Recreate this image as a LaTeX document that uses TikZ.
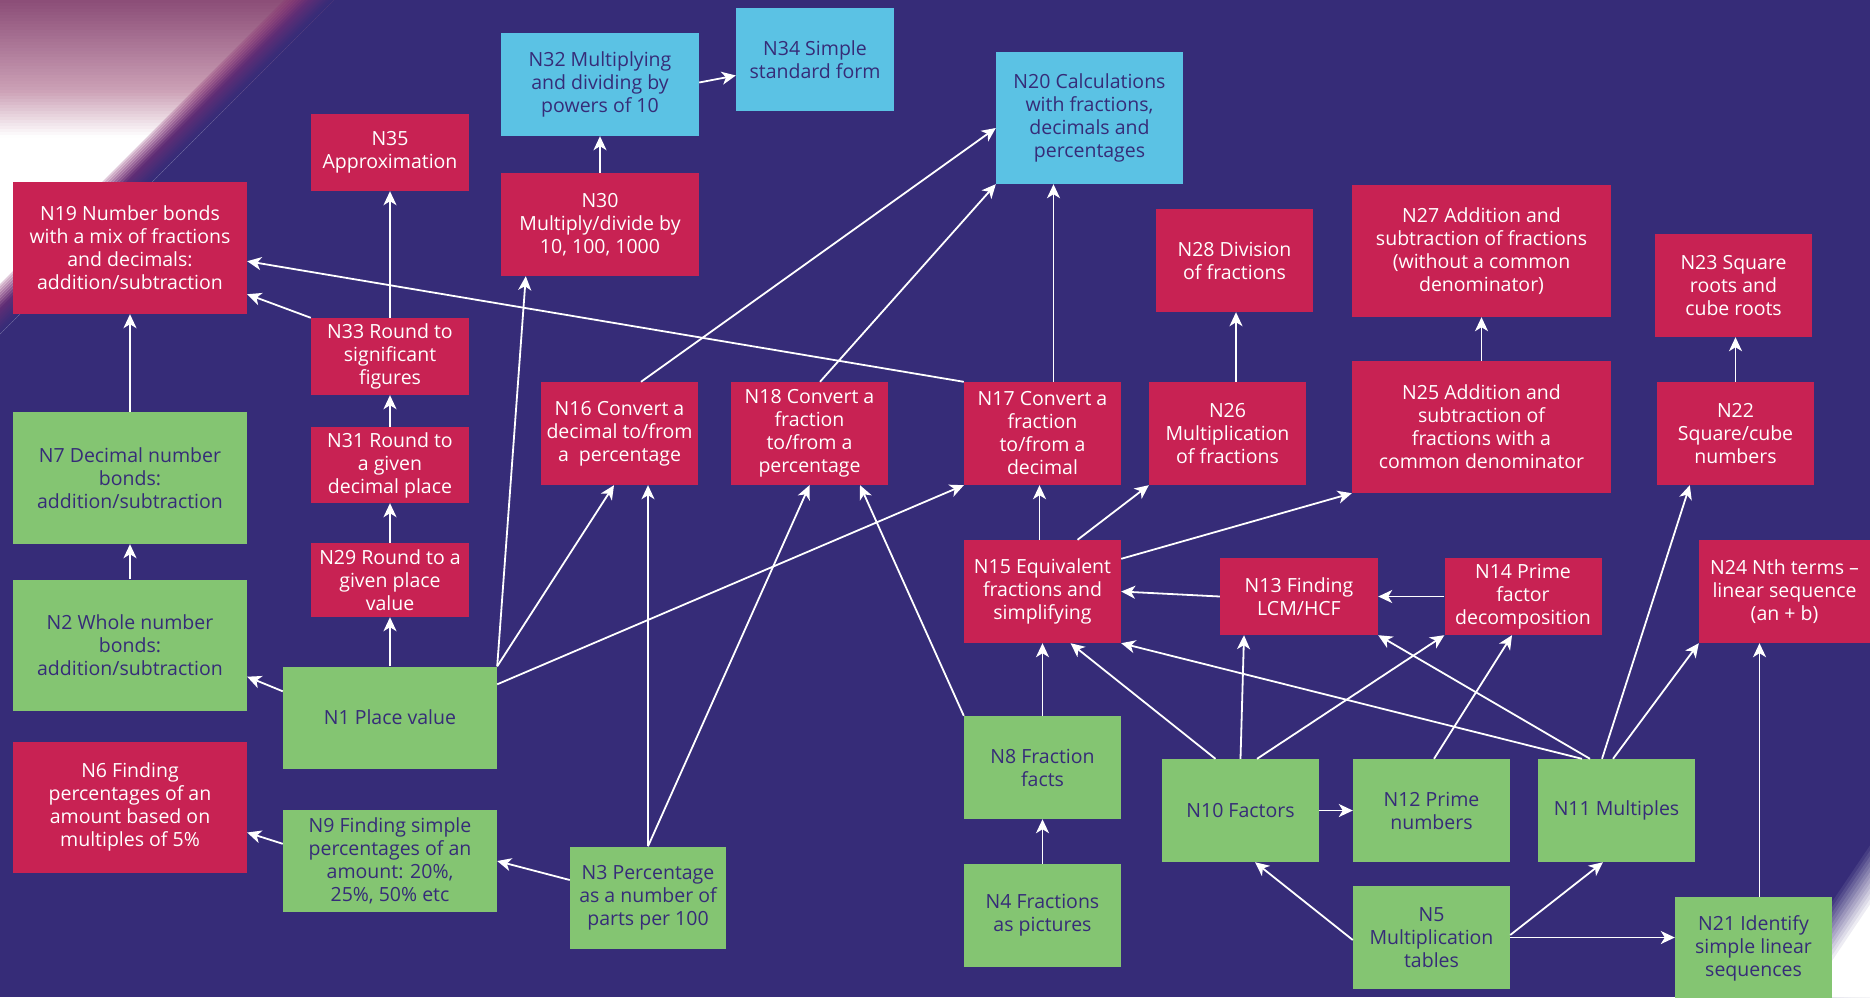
\documentclass[tikz,border=0pt]{standalone}
\usepackage{fontspec}
\setmainfont{Open Sans}
\usetikzlibrary{arrows.meta}
\definecolor{cbg}{HTML}{362C78}
\definecolor{cred}{HTML}{C82253}
\definecolor{cgreen}{HTML}{84C572}
\definecolor{cblue}{HTML}{5BC2E4}
\definecolor{ctext}{HTML}{362C78}
\definecolor{cmauve}{HTML}{8C4E78}
\definecolor{cpink}{HTML}{CDA2B7}
\definecolor{cmag}{HTML}{8A2F72}
\tikzset{
  box/.style={rectangle, inner sep=0pt, align=center, font=\fontsize{19.5pt}{23pt}\selectfont},
  rbox/.style={box, fill=cred, text=white},
  gbox/.style={box, fill=cgreen, text=ctext},
  bbox/.style={box, fill=cblue, text=ctext},
  arr/.style={draw=white, line width=1.8pt, -{Stealth[length=14pt,width=13pt,inset=4pt]}}
}
\begin{document}
\begin{tikzpicture}[x=1pt,y=-1pt]
\useasboundingbox (0,0) rectangle (1870,997);
\fill[cbg] (0,0) rectangle (1870,997);
% top-left glow
\begin{scope}
  \clip (0,0) -- (334,0) -- (0,334) -- cycle;
  \foreach \y in {0,3,...,336} {
    \ifnum\y<90
      \pgfmathtruncatemacro\p{\y*1.111}
      \fill[cpink!\p!cmauve] (0,\y) rectangle (340,\y+3.6);
    \else
      \pgfmathtruncatemacro\p{min(100,(\y-90)*2.222)}
      \fill[white!\p!cpink] (0,\y) rectangle (340,\y+3.6);
    \fi
  }
  \foreach \c in {284,287,...,335} {
    \pgfmathtruncatemacro\p{min(100,max(0,(\c-284)*2.17))}
    \pgfmathsetmacro\o{min(1,0.25+(\c-284)/30)}
    \fill[cbg!\p!cmag, fill opacity=\o] (\c,0) -- (\c+3.6,0) -- (0,\c+3.6) -- (0,\c) -- cycle;
  }
\end{scope}
% bottom-right glow
\begin{scope}
  \clip (0,0) rectangle (1870,997);
  \foreach \d in {0,3,...,90} {
    \pgfmathtruncatemacro\p{min(100,\d*2.78)}
    \fill[white!\p!cbg] (1870,{840+1.792*\d}) -- ({1764.3+1.2055*\d},997) -- (1870,997) -- cycle;
  }
\end{scope}
% nodes
\node[rbox, minimum width=234pt, minimum height=132pt] (n19) at (130,248) {N19 Number bonds\\with a mix of fractions\\and decimals:\\addition/subtraction};
\node[rbox, minimum width=158pt, minimum height=77pt] (n35) at (390,152.5) {N35\\Approximation};
\node[bbox, minimum width=198pt, minimum height=103pt] (n32) at (600,84.5) {N32 Multiplying\\and dividing by\\powers of 10};
\node[bbox, minimum width=158pt, minimum height=103pt] (n34) at (815,59.5) {N34 Simple\\standard form};
\node[bbox, minimum width=187pt, minimum height=132pt] (n20) at (1089.5,118) {N20 Calculations\\with fractions,\\decimals and\\percentages};
\node[rbox, minimum width=198pt, minimum height=103pt] (n30) at (600,224.5) {N30\\Multiply/divide by\\10, 100, 1000};
\node[rbox, minimum width=158pt, minimum height=77pt] (n33) at (390,356.5) {N33 Round to\\significant\\figures};
\node[rbox, minimum width=158pt, minimum height=76pt] (n31) at (390,465) {N31 Round to\\a given\\decimal place};
\node[rbox, minimum width=158pt, minimum height=74pt] (n29) at (390,580) {N29 Round to a\\given place\\value};
\node[gbox, minimum width=234pt, minimum height=132pt] (n7) at (130,478) {N7 Decimal number\\bonds:\\addition/subtraction};
\node[gbox, minimum width=234pt, minimum height=131pt] (n2) at (130,645) {N2 Whole number\\bonds:\\addition/subtraction};
\node[gbox, minimum width=214pt, minimum height=102pt] (n1) at (390,717.5) {N1 Place value};
\node[rbox, minimum width=234pt, minimum height=131pt] (n6) at (130,807) {N6 Finding\\percentages of an\\amount based on\\multiples of 5\%};
\node[gbox, minimum width=214pt, minimum height=102pt] (n9) at (390,861) {N9 Finding simple\\percentages of an\\amount: 20\%,\\25\%, 50\% etc};
\node[gbox, minimum width=156pt, minimum height=102pt] (n3) at (648,897.5) {N3 Percentage\\as a number of\\parts per 100};
\node[rbox, minimum width=157pt, minimum height=103pt] (n16) at (619.5,433.5) {N16 Convert a\\decimal to/from\\a~~percentage};
\node[rbox, minimum width=157pt, minimum height=103pt] (n18) at (809.5,433.5) {N18 Convert a\\fraction\\to/from a\\percentage};
\node[rbox, minimum width=157pt, minimum height=103pt] (n17) at (1042.5,433.5) {N17 Convert a\\fraction\\to/from a\\decimal};
\node[rbox, minimum width=157pt, minimum height=103pt] (n26) at (1227.5,433.5) {N26\\Multiplication\\of fractions};
\node[rbox, minimum width=157pt, minimum height=103pt] (n28) at (1234.5,260.5) {N28 Division\\of fractions};
\node[rbox, minimum width=259pt, minimum height=132pt] (n27) at (1481.5,251) {N27 Addition and\\subtraction of fractions\\(without a common\\denominator)};
\node[rbox, minimum width=259pt, minimum height=132pt] (n25) at (1481.5,427) {N25 Addition and\\subtraction of\\fractions with a\\common denominator};
\node[rbox, minimum width=157pt, minimum height=103pt] (n23) at (1733.5,285.5) {N23 Square\\roots and\\cube roots};
\node[rbox, minimum width=157pt, minimum height=103pt] (n22) at (1735.5,433.5) {N22\\Square/cube\\numbers};
\node[rbox, minimum width=157pt, minimum height=103pt] (n15) at (1042.5,591.5) {N15 Equivalent\\fractions and\\simplifying};
\node[rbox, minimum width=158pt, minimum height=77pt] (n13) at (1299,596.5) {N13 Finding\\LCM/HCF};
\node[rbox, minimum width=157pt, minimum height=77pt] (n14) at (1523,596.5) {N14 Prime\\factor\\decomposition};
\node[rbox, minimum width=171pt, minimum height=103pt] (n24) at (1784.5,591.5) {N24 Nth terms –\\linear sequence\\(an + b)};
\node[gbox, minimum width=157pt, minimum height=103pt] (n8) at (1042.5,767.5) {N8 Fraction\\facts};
\node[gbox, minimum width=157pt, minimum height=103pt] (n4) at (1042.5,915.5) {N4 Fractions\\as pictures};
\node[gbox, minimum width=157pt, minimum height=103pt] (n10) at (1240.5,810.5) {N10 Factors};
\node[gbox, minimum width=157pt, minimum height=103pt] (n12) at (1431.5,810.5) {N12 Prime\\numbers};
\node[gbox, minimum width=157pt, minimum height=103pt] (n11) at (1616.5,810.5) {N11 Multiples};
\node[gbox, minimum width=157pt, minimum height=103pt] (n5) at (1431.5,937.5) {N5\\Multiplication\\tables};
\node[gbox, minimum width=157pt, minimum height=103pt] (n21) at (1753.5,948.5) {N21 Identify\\simple linear\\sequences};
% connectors
\draw[arr] (n2.north) -- (n7.south);
\draw[arr] (n7.north) -- (n19.south);
\draw[arr] ([yshift=-25pt]n1.north west) -- ([yshift=34pt]n2.south east);
\draw[arr] (n1.north) -- (n29.south);
\draw[arr] (n29.north) -- (n31.south);
\draw[arr] (n31.north) -- (n33.south);
\draw[arr] (n33.north) -- (n35.south);
\draw[arr] (n33.north west) -- ([yshift=20pt]n19.south east);
\draw[arr] (n17.north west) -- ([yshift=53pt]n19.south east);
\draw[arr] (n1.north east) -- ([xshift=25pt]n30.south west);
\draw[arr] (n30.north) -- (n32.south);
\draw[arr] ([yshift=2pt]n32.east) -- ([yshift=-16pt]n34.west);
\draw[arr] (n1.north east) -- ([xshift=-5.5pt]n16.south);
\draw[arr] ([yshift=-18pt]n1.north east) -- (n17.south west);
\draw[arr] (n3.north) -- (n3.north |- n16.south);
\draw[arr] (n3.north) -- (n18.south);
\draw[arr] ([yshift=17.5pt]n3.west) -- (n9.east);
\draw[arr] ([yshift=-34pt]n9.north west) -- ([yshift=-25.5pt]n6.east);
\draw[arr] ([xshift=21.5pt]n16.north) -- ([yshift=-10pt]n20.west);
\draw[arr] ([xshift=10.5pt]n18.north) -- (n20.south west);
\draw[arr] ([xshift=11pt]n17.north) -- ([xshift=11pt]n17.north |- n20.south);
\draw[arr] (n8.north west) -- ([xshift=50.5pt]n18.south);
\draw[arr] (n8.north) -- (n15.south);
\draw[arr] (n4.north) -- (n8.south);
\draw[arr] ([xshift=-3pt]n15.north) -- ([xshift=-3pt]n17.south);
\draw[arr] ([xshift=35pt]n15.north) -- (n26.south west);
\draw[arr] ([yshift=-19pt]n15.north east) -- (n25.south west);
\draw[arr] ([xshift=8.5pt]n26.north) -- ([xshift=8.5pt]n26.north |- n28.south);
\draw[arr] (n25.north) -- (n27.south);
\draw[arr] (n22.north) -- (n22.north |- n23.south);
\draw[arr] (n13.west) -- (n15.east);
\draw[arr] (n14.west) -- (n13.east);
\draw[arr] ([xshift=-25pt]n10.north) -- ([xshift=28pt]n15.south);
\draw[arr] (n10.north) -- ([xshift=-55pt]n13.south);
\draw[arr] ([xshift=16.5pt]n10.north) -- (n14.south west);
\draw[arr] ([xshift=2.5pt]n12.north) -- ([xshift=-11pt]n14.south);
\draw[arr] ([xshift=-34.5pt]n11.north) -- (n15.south east);
\draw[arr] ([xshift=-26.5pt]n11.north) -- (n13.south east);
\draw[arr] ([xshift=-14.5pt]n11.north) -- ([xshift=33pt]n22.south west);
\draw[arr] ([xshift=-3.5pt]n11.north) -- (n24.south west);
\draw[arr] (n10.east) -- (n12.west);
\draw[arr] ([yshift=-2.5pt]n5.west) -- ([xshift=14.5pt]n10.south);
\draw[arr] ([yshift=2.5pt]n5.east) -- ([xshift=-13.5pt]n11.south);
\draw[arr] (n5.east) -- (n5.east -| n21.west);
\draw[arr] ([xshift=6pt]n21.north) -- ([xshift=6pt]n21.north |- n24.south);
\end{tikzpicture}
\end{document}
